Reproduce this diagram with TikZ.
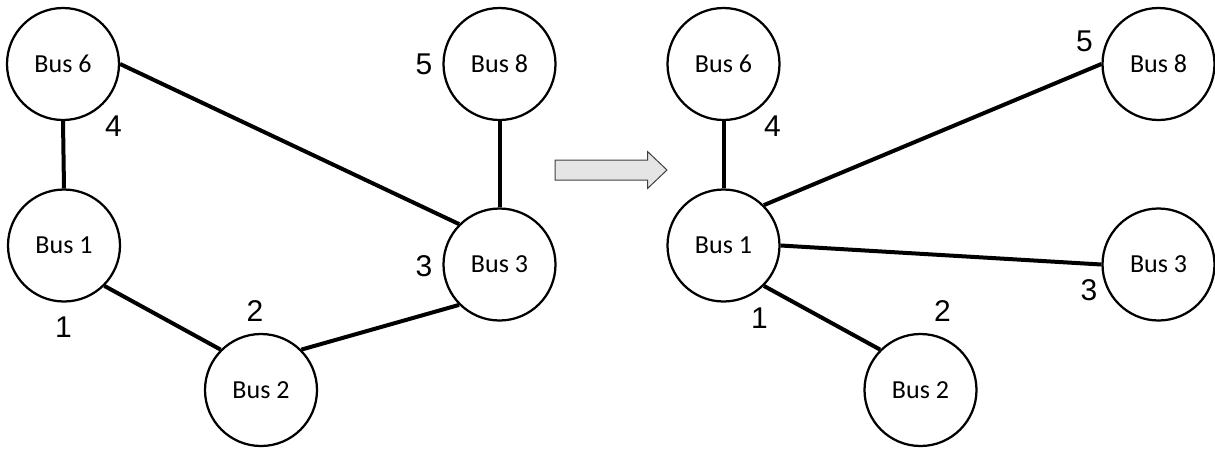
\documentclass[tikz,border=0pt]{standalone}
\usepackage{fontspec}
\setmainfont{Carlito}
\newfontfamily\numfont{Liberation Sans}

\begin{document}
\begin{tikzpicture}
[x=1pt, y=-1pt, every node/.style={inner sep=0pt},
 bus/.style={circle, minimum size=112.0pt, fill=white, line width=2.25pt, draw=black, font=\fontsize{26}{26}\selectfont},
 num/.style={font=\numfont\fontsize{30}{30}\selectfont}]
\useasboundingbox (0,0) rectangle (1215,448);
% before
\node (L6) [bus] at (63.0, 64.0) {\textcolor{black}{Bus 6}};
\node (L8) [bus] at (499.5, 64.0) {\textcolor{black}{Bus 8}};
\node (L1) [bus] at (64.0, 245.5) {\textcolor{black}{Bus 1}};
\node (L3) [bus] at (499.5, 264.5) {\textcolor{black}{Bus 3}};
\node (L2) [bus] at (261.0, 390.0) {\textcolor{black}{Bus 2}};
\node (Ln4) [num] at (113.5, 126.0) {\textcolor{black}{4}};
\node (Ln5) [num] at (424.0, 64.5) {\textcolor{black}{5}};
\node (Ln1) [num] at (63.5, 327.5) {\textcolor{black}{1}};
\node (Ln2) [num] at (255.0, 311.0) {\textcolor{black}{2}};
\node (Ln3) [num] at (424.0, 266.5) {\textcolor{black}{3}};
\draw [line width=4pt, color=black] (L6.south) to (L1.north);
\draw [line width=4pt, color=black] (L6.east) to (L3.north west);
\draw [line width=4pt, color=black] (L8.south) to (L3.north);
\draw [line width=4pt, color=black] (L1.south east) to (L2.north west);
\draw [line width=4pt, color=black] (L2.north east) to (L3.south west);
% arrow
\draw [line width=1pt, draw=black!75, fill=black!10] (555,160) -- (647.5,160) -- (647.5,151.5) -- (667,170) -- (647.5,188.5) -- (647.5,180) -- (555,180) -- cycle;
% after
\node (R6) [bus] at (723.5, 64.0) {\textcolor{black}{Bus 6}};
\node (R8) [bus] at (1158.5, 64.0) {\textcolor{black}{Bus 8}};
\node (R1) [bus] at (723.5, 245.5) {\textcolor{black}{Bus 1}};
\node (R3) [bus] at (1158.5, 264.5) {\textcolor{black}{Bus 3}};
\node (R2) [bus] at (920.5, 390.0) {\textcolor{black}{Bus 2}};
\node (Rn4) [num] at (772.5, 126.0) {\textcolor{black}{4}};
\node (Rn5) [num] at (1084.5, 41.5) {\textcolor{black}{5}};
\node (Rn1) [num] at (759.5, 318.0) {\textcolor{black}{1}};
\node (Rn2) [num] at (942.5, 311.0) {\textcolor{black}{2}};
\node (Rn3) [num] at (1089.0, 290.0) {\textcolor{black}{3}};
\draw [line width=4pt, color=black] (R6.south) to (R1.north);
\draw [line width=4pt, color=black] (R1.north east) to (R8.west);
\draw [line width=4pt, color=black] (R1.east) to (R3.west);
\draw [line width=4pt, color=black] (R1.south east) to (R2.north west);
\end{tikzpicture}
\end{document}
